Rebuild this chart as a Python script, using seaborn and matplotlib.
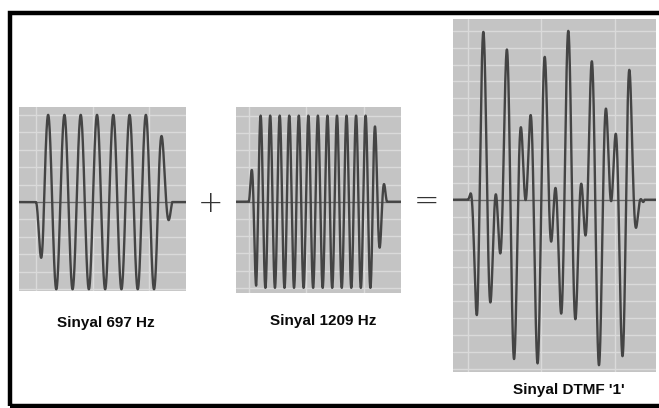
import numpy as np
import pandas as pd
import matplotlib.pyplot as plt
import seaborn as sns
from matplotlib.patches import Rectangle

# Komponen nada DTMF untuk tombol '1'
frekuensi = [697, 1209]          # Hz
fase = [np.pi, 0.0]              # 697 Hz mulai turun, 1209 Hz mulai naik
amplitudo = [1.0, 1.0]
durasi_ms = 12.0
ramp_naik_ms = 0.65
ramp_turun_ms = 1.2

judul = ["Sinyal 697 Hz", "Sinyal 1209 Hz", "Sinyal DTMF '1'"]
komponen = [[0], [1], [0, 1]]    # komponen yang dijumlahkan per panel
batas_x = [(-1.49, 13.22), (-1.1, 13.2), (-1.02, 12.79)]
batas_y = [(-1.02, 1.09), (-1.06, 1.10), (-2.04, 2.14)]

sns.set_theme(style="darkgrid", rc={
    "axes.facecolor": "#c4c4c4",
    "grid.color": "#dadada",
    "grid.linewidth": 1.0,
    "axes.edgecolor": "#c4c4c4",
})

fig = plt.figure(figsize=(6.59, 4.08), dpi=100)
posisi = [
    [19 / 659, 117 / 408, 167 / 659, 184 / 408],
    [236 / 659, 115 / 408, 165 / 659, 186 / 408],
    [453 / 659, 36 / 408, 203 / 659, 353 / 408],
]

for i in range(3):
    ax = fig.add_axes(posisi[i])
    t = np.linspace(batas_x[i][0], batas_x[i][1], 4000)
    env = np.clip(t / ramp_naik_ms, 0, 1) * np.clip((durasi_ms - t) / ramp_turun_ms, 0, 1)
    y = np.zeros_like(t)
    for k in komponen[i]:
        y += amplitudo[k] * np.sin(2 * np.pi * frekuensi[k] * t / 1000 + fase[k])
    df = pd.DataFrame({"t": t, "y": y * env})
    ax.axhline(0, color="#6a6a6a", lw=1.0, zorder=1)
    sns.lineplot(data=df, x="t", y="y", ax=ax, color="#444444", lw=1.7, zorder=2)
    ax.set_xticks(np.arange(0, 15, 5))
    ax.set_yticks(np.arange(-2.0, 2.2, 0.2))
    ax.set_xlim(batas_x[i])
    ax.set_ylim(batas_y[i])
    ax.tick_params(length=0, labelbottom=False, labelleft=False)
    ax.set_xlabel("")
    ax.set_ylabel("")
    for s in ax.spines.values():
        s.set_visible(False)

font_label = dict(family=["Liberation Sans", "DejaVu Sans"], weight="bold",
                  size=11, ha="center", va="center", color="#0a0a0a")
fig.text(106 / 659, 1 - 323 / 408, judul[0], **font_label)
fig.text(323 / 659, 1 - 321 / 408, judul[1], **font_label)
fig.text(569 / 659, 1 - 390 / 408, judul[2], **font_label)

fig.text(211 / 659, 1 - 203 / 408, "+", ha="center", va="center", size=22,
         color="#333333", family="DejaVu Sans", weight="light")
fig.text(427 / 659, 1 - 201 / 408, "=", ha="center", va="center", size=22,
         color="#333333", family="DejaVu Sans", weight="light")

# bingkai hitam
fig.add_artist(Rectangle((9.5 / 659, 2 / 408), 1.1, 393 / 408, transform=fig.transFigure,
                         fill=False, edgecolor="black", lw=3.2))

fig.savefig("out.png", dpi=100)
plt.close(fig)
